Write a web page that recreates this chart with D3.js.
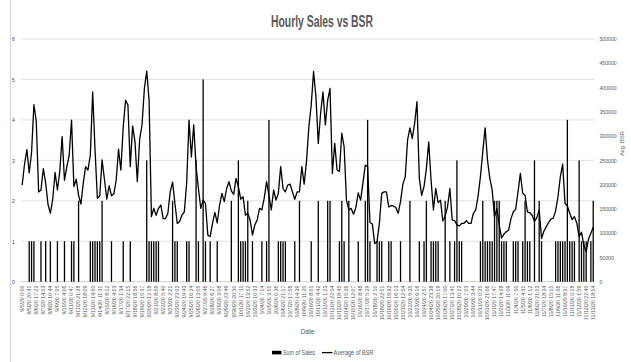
<!DOCTYPE html>
<html>
<head>
<meta charset="utf-8">
<script src="https://cdn.jsdelivr.net/npm/d3@7"></script>
<style>
  body { margin: 0; background: #fff; }
  svg { display: block; }
  text { font-family: "Liberation Sans Narrow", "Liberation Sans", Arial, sans-serif; fill: #595959; }
</style>
</head>
<body>
<svg id="chart" width="631" height="362"></svg>
<script>
// Timestamp labels shown on every third reading
const tickLabels = [
  "9/5/20 0:00", "9/5/20 20:41", "9/6/20 17:22", "9/7/20 14:03", "9/8/20 10:44", "9/9/20 7:25",
  "9/10/20 4:06", "9/11/20 0:47", "9/11/20 21:28", "9/12/20 18:09", "9/13/20 14:50", "9/14/20 11:31",
  "9/15/20 8:12", "9/16/20 4:53", "9/17/20 1:34", "9/17/20 22:15", "9/18/20 18:56", "9/19/20 15:37",
  "9/20/20 12:18", "9/21/20 8:59", "9/22/20 5:40", "9/23/20 2:21", "9/23/20 23:02", "9/24/20 19:43",
  "9/25/20 16:24", "9/26/20 13:05", "9/27/20 9:46", "9/28/20 6:27", "9/29/20 3:08", "9/29/20 23:49",
  "9/30/20 20:30", "10/1/20 17:11", "10/2/20 13:52", "10/3/20 10:33", "10/4/20 7:14", "10/5/20 3:55",
  "10/6/20 0:36", "10/6/20 21:17", "10/7/20 17:58", "10/8/20 14:39", "10/9/20 11:20", "10/10/20 8:01",
  "10/11/20 4:42", "10/12/20 1:23", "10/12/20 22:04", "10/13/20 18:45", "10/14/20 15:26", "10/15/20 12:07",
  "10/16/20 8:48", "10/17/20 5:29", "10/18/20 2:10", "10/18/20 22:51", "10/19/20 19:32", "10/20/20 16:13",
  "10/21/20 12:54", "10/22/20 9:35", "10/23/20 6:16", "10/24/20 2:57", "10/24/20 23:38", "10/25/20 20:19",
  "10/26/20 17:00", "10/27/20 13:41", "10/28/20 10:22", "10/29/20 7:03", "10/30/20 3:44", "10/31/20 0:25",
  "10/31/20 21:06", "11/1/20 17:47", "11/2/20 14:28", "11/3/20 11:09", "11/4/20 7:50", "11/5/20 4:31",
  "11/6/20 1:12", "11/6/20 21:53", "11/7/20 18:34", "11/8/20 15:15", "11/9/20 11:56", "11/10/20 8:37",
  "11/11/20 5:18", "11/12/20 1:59", "11/12/20 22:40", "11/13/20 18:54"
];

// Units sold per reading
const sales = [
  0,0,0,1,1,1,0,0,1,0, 1,0,1,0,0,1,0,0,1,0,
  0,1,1,0,2,0,0,0,0,1, 1,1,1,1,2,0,0,0,1,0,
  0,0,0,1,0,0,1,0,0,0, 0,0,0,3,1,1,1,1,1,0,
  0,0,0,0,2,1,1,0,0,0, 1,1,0,0,3,1,0,5,1,0,
  1,0,0,1,0,0,0,0,0,2, 0,0,3,1,1,1,2,0,1,0,
  0,0,1,0,1,4,0,0,0,1, 1,1,1,0,0,0,1,0,2,0,
  0,0,0,1,0,0,2,0,0,0, 2,2,0,0,0,1,2,1,0,2,
  0,0,0,1,0,0,2,4,1,0, 0,1,1,1,0,0,1,1,0,0,
  0,1,0,0,0,2,0,0,0,1, 0,1,2,0,1,1,1,1,0,0,
  2,0,1,0,1,3,1,1,0,0, 0,0,0,0,0,1,2,1,1,1,
  1,2,2,2,1,1,1,0,0,1, 1,1,0,1,2,1,1,0,3,0,
  2,1,0,0,0,0,0,1,1,1, 1,1,4,1,1,1,0,3,1,1,
  1,0,1,2
];

// Average best-seller rank per reading
const avgBsr = [
  199000, 242000, 272000, 224000, 267000, 365000, 330000, 185000, 189000, 233000,
  203000, 159000, 141000, 170000, 225000, 189000, 227000, 299000, 209000, 237000,
  260000, 333000, 196000, 211000, 178000, 160000, 203000, 237000, 230000, 261000,
  391000, 272000, 172000, 176000, 251000, 211000, 170000, 198000, 177000, 181000,
  209000, 273000, 230000, 319000, 374000, 364000, 237000, 321000, 288000, 206000,
  294000, 323000, 398000, 434000, 374000, 134000, 151000, 137000, 151000, 158000,
  130000, 130000, 141000, 185000, 205000, 161000, 120000, 124000, 137000, 144000,
  203000, 333000, 257000, 323000, 237000, 192000, 151000, 168000, 161000, 96000,
  93000, 120000, 143000, 121000, 158000, 182000, 165000, 192000, 206000, 187000,
  180000, 213000, 196000, 170000, 175000, 137000, 141000, 127000, 96000, 117000,
  127000, 151000, 148000, 172000, 206000, 178000, 148000, 189000, 168000, 182000,
  237000, 192000, 185000, 199000, 201000, 185000, 170000, 185000, 185000, 237000,
  201000, 249000, 319000, 364000, 433000, 381000, 285000, 347000, 391000, 323000,
  374000, 398000, 223000, 285000, 230000, 227000, 306000, 278000, 168000, 148000,
  151000, 139000, 153000, 183000, 168000, 203000, 240000, 237000, 122000, 119000,
  79000, 82000, 120000, 182000, 185000, 185000, 154000, 157000, 156000, 153000,
  141000, 165000, 201000, 216000, 292000, 317000, 295000, 326000, 371000, 213000,
  178000, 196000, 233000, 288000, 209000, 148000, 192000, 163000, 168000, 125000,
  135000, 154000, 192000, 127000, 126000, 117000, 115000, 120000, 120000, 126000,
  120000, 120000, 141000, 148000, 176000, 216000, 268000, 317000, 251000, 213000,
  189000, 133000, 151000, 117000, 90000, 98000, 103000, 106000, 130000, 144000,
  149000, 185000, 223000, 182000, 178000, 144000, 142000, 137000, 124000, 132000,
  148000, 89000, 104000, 113000, 122000, 129000, 131000, 146000, 175000, 216000,
  242000, 161000, 156000, 141000, 128000, 134000, 121000, 93000, 102000, 75000,
  62000, 88000, 100000, 112000
];

const salesTicks = [0, 1, 2, 3, 4, 5, 6];
const bsrTicks = [0, 50000, 100000, 150000, 200000, 250000, 300000, 350000, 400000, 450000, 500000];
const labelEvery = 3;

const svg = d3.select("#chart");
const plot = { left: 21, right: 594.4, top: 39, bottom: 281.7 };

const x = d3.scaleBand()
  .domain(d3.range(sales.length))
  .range([plot.left, plot.right])
  .paddingInner(0.45)
  .paddingOuter(0.225);
const ySales = d3.scaleLinear().domain([0, 6]).range([plot.bottom, plot.top]);
const yBsr = d3.scaleLinear().domain([0, 500000]).range([plot.bottom, plot.top]);

// chart area edge
svg.append("line")
  .attr("x1", 10.5).attr("x2", 10.5).attr("y1", 0).attr("y2", 362)
  .attr("stroke", "#d9d9d9").attr("stroke-width", 1);

// horizontal gridlines
svg.append("g")
  .selectAll("line")
  .data(salesTicks)
  .join("line")
  .attr("x1", plot.left).attr("x2", plot.right)
  .attr("y1", d => ySales(d)).attr("y2", d => ySales(d))
  .attr("stroke", d => d === 0 ? "#c8c8c8" : "#dedede")
  .attr("stroke-width", 0.9);

// title
svg.append("text")
  .attr("x", 322).attr("y", 27)
  .attr("text-anchor", "middle")
  .attr("font-size", 16).attr("font-weight", "bold")
  .attr("textLength", 102).attr("lengthAdjust", "spacingAndGlyphs")
  .text("Hourly Sales vs BSR");

// left axis (sales)
const leftAxis = svg.append("g")
  .attr("transform", `translate(${plot.left},0)`)
  .call(d3.axisLeft(ySales).tickValues(salesTicks).tickSize(0).tickPadding(6).tickFormat(d3.format("d")));
leftAxis.select(".domain").remove();
leftAxis.selectAll("text").attr("font-size", 5.8).style("fill", "#595959");

// right axis (BSR)
const rightAxis = svg.append("g")
  .attr("transform", `translate(${plot.right},0)`)
  .call(d3.axisRight(yBsr).tickValues(bsrTicks).tickSize(0).tickPadding(5).tickFormat(d3.format("d")));
rightAxis.select(".domain").remove();
rightAxis.selectAll("text").attr("font-size", 5.2).style("fill", "#595959");

// bottom axis with rotated timestamps
const bottomAxis = svg.append("g")
  .attr("transform", `translate(0,${plot.bottom})`)
  .call(d3.axisBottom(x)
    .tickValues(d3.range(0, sales.length, labelEvery))
    .tickSize(0)
    .tickFormat(i => tickLabels[i / labelEvery]));
bottomAxis.select(".domain").remove();
bottomAxis.selectAll("text")
  .attr("font-size", 5.2)
  .style("fill", "#595959")
  .attr("text-anchor", "end")
  .attr("transform", "rotate(-90)")
  .attr("x", -4).attr("y", 0).attr("dy", "0.35em");

// sales bars
svg.append("g")
  .selectAll("rect")
  .data(sales.map((v, i) => ({ i, v })).filter(d => d.v > 0))
  .join("rect")
  .attr("x", d => x(d.i))
  .attr("width", x.bandwidth())
  .attr("y", d => ySales(d.v))
  .attr("height", d => ySales(0) - ySales(d.v))
  .attr("fill", "#000");

// BSR line
const line = d3.line()
  .x((d, i) => x(i) + x.bandwidth() / 2)
  .y(d => yBsr(d))
  .curve(d3.curveLinear);
svg.append("path")
  .datum(avgBsr)
  .attr("d", line)
  .attr("fill", "none")
  .attr("stroke", "#000")
  .attr("stroke-width", 1.3)
  .attr("stroke-linejoin", "round");

// axis titles
svg.append("text")
  .attr("x", 307.5).attr("y", 334)
  .attr("text-anchor", "middle")
  .attr("font-size", 6.5)
  .text("Date");
svg.append("text")
  .attr("transform", "translate(623.5,143.5) rotate(-90)")
  .attr("text-anchor", "middle")
  .attr("font-size", 5.8)
  .text("Avg. BSR");

// legend
const legend = svg.append("g");
legend.append("rect")
  .attr("x", 272).attr("y", 350.8).attr("width", 9.5).attr("height", 3.6)
  .attr("fill", "#000");
legend.append("text")
  .attr("x", 283).attr("y", 355)
  .attr("font-size", 7.5)
  .attr("textLength", 32).attr("lengthAdjust", "spacingAndGlyphs")
  .text("Sum of Sales");
legend.append("line")
  .attr("x1", 322).attr("x2", 332.5).attr("y1", 352.6).attr("y2", 352.6)
  .attr("stroke", "#000").attr("stroke-width", 1.3);
legend.append("text")
  .attr("x", 333.5).attr("y", 355)
  .attr("font-size", 7.5)
  .attr("textLength", 40).attr("lengthAdjust", "spacingAndGlyphs")
  .text("Average of BSR");
</script>
</body>
</html>
